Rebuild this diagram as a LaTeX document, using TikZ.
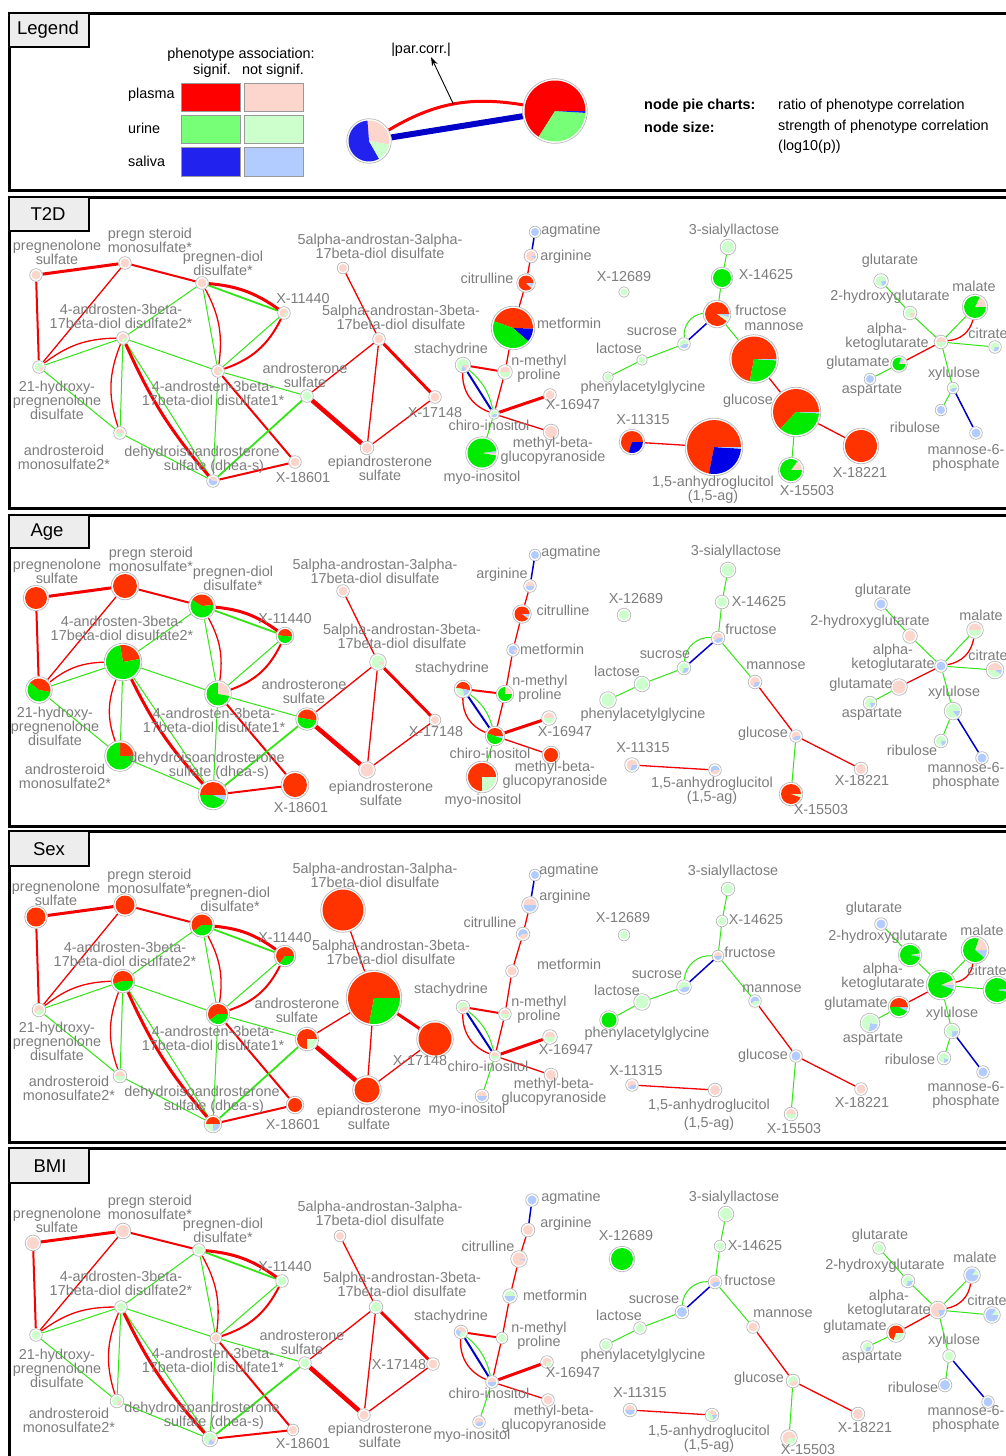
\documentclass[tikz,border=0pt]{standalone}
\usepackage{fontspec}
\setmainfont{Liberation Sans}
\usetikzlibrary{arrows.meta}
\pgfdeclarelayer{paper}
\pgfdeclarelayer{edges}
\pgfsetlayers{paper,edges,main}

% pie slice colours: plasma / urine / saliva, significant (S) or not (N)
\definecolor{pS}{RGB}{255,51,0}
\definecolor{pN}{RGB}{252,214,204}
\definecolor{uS}{RGB}{0,235,0}
\definecolor{uN}{RGB}{204,255,204}
\definecolor{sS}{RGB}{0,0,230}
\definecolor{sN}{RGB}{179,204,255}
% legend colours
\definecolor{lgR}{RGB}{255,0,0}
\definecolor{lgG}{RGB}{119,255,119}
\definecolor{lgB}{RGB}{34,34,238}
% edge colours
\definecolor{eR}{RGB}{245,0,0}
\definecolor{eG}{RGB}{50,230,20}
\definecolor{eB}{RGB}{0,0,200}
\definecolor{txt}{RGB}{125,125,125}

\tikzset{
  ring/.style={circle, inner sep=0pt, fill=white, draw=black!28, line width=0.7pt},
  lbl/.style={text=txt, font=\fontsize{14.4}{14}\selectfont, align=center, inner sep=0pt},
  lgt/.style={text=black, font=\fontsize{14.4}{14}\selectfont, inner sep=0pt},
  lgtb/.style={text=black, font=\fontsize{14.4}{14}\selectfont\bfseries, inner sep=0pt},
  tabtxt/.style={font=\fontsize{18.5}{20}\selectfont, inner sep=0pt},
  frame/.style={line width=3pt},
  tabbox/.style={draw, line width=1.6pt, fill=black!7},
  rt/.style={eR, line width=1.3pt},
  rM/.style={eR, line width=2pt},
  rT/.style={eR, line width=3pt},
  rX/.style={eR, line width=4.5pt},
  gt/.style={eG, line width=1pt},
  gM/.style={eG, line width=1.8pt},
  bt/.style={eB, line width=1.5pt},
  bM/.style={eB, line width=2pt},
}

% pie node: name, position, radius, start angle, slices colour/fraction
\newcommand\pn[5]{%
  \node[ring, minimum size={2*#3+3.6}] (#1) at (#2) {};
  \pgfmathsetmacro\pietmp{-1*(#4)}\global\let\pieang\pietmp
  \foreach \pc/\pf in {#5}{%
    \pgfmathsetmacro\pieend{\pieang-360*\pf}%
    \fill[\pc] (#1.center) -- ++(\pieang:#3) arc[start angle=\pieang, end angle=\pieend, radius=#3] -- cycle;
    \xdef\pieang{\pieend}%
  }}

\newcounter{lbc}
\newcommand\lb[2]{\stepcounter{lbc}\node[lbl] (lb\arabic{lbc}) at (#1) {#2};}

\newcommand\LBpsul{pregnenolone\\sulfate}
\newcommand\LBpst{pregn steroid\\monosulfate*}
\newcommand\LBpdi{pregnen-diol\\disulfate*}
\newcommand\LBaa{4-androsten-3beta-\\17beta-diol disulfate2*}
\newcommand\LBab{4-androsten-3beta-\\17beta-diol disulfate1*}
\newcommand\LBhy{21-hydroxy-\\pregnenolone\\disulfate}
\newcommand\LBasul{androsterone\\sulfate}
\newcommand\LBam{androsteroid\\monosulfate2*}
\newcommand\LBdh{dehydroisoandrosterone\\\hspace*{24pt}sulfate (dhea-s)}
\newcommand\LBda{5alpha-androstan-3alpha-\\17beta-diol disulfate}
\newcommand\LBdb{5alpha-androstan-3beta-\\17beta-diol disulfate}
\newcommand\LBepi{epiandrosterone\\sulfate}
\newcommand\LBnmp{n-methyl\\proline}
\newcommand\LBmbg{methyl-beta-\\glucopyranoside}
\newcommand\LBag{1,5-anhydroglucitol\\(1,5-ag)}
\newcommand\LBakg{alpha-\\ketoglutarate}
\newcommand\LBmsp{mannose-6-\\phosphate}

% the correlation network, identical in every panel
\newcommand\netedges[1]{%
\begin{pgfonlayer}{edges}
 \draw[rT] (#1psul) -- (#1pst);
 \draw[rM] (#1psul) -- (#1h21);
 \draw[rt] (#1pst) -- (#1h21);
 \draw[rM] (#1pst) -- (#1pdi);
 \draw[gM] (#1pdi) -- (#1x440);
 \draw[rT] (#1pdi) to[bend left=15] (#1x440);
 \draw[gt] (#1pdi) -- (#1a1);
 \draw[rt] (#1pdi) to[bend left=18] (#1a1);
 \draw[gt] (#1pdi) -- (#1a2);
 \draw[gt] (#1x440) -- (#1a1);
 \draw[rM] (#1x440) to[bend left=22] (#1a1);
 \draw[gt] (#1a2) -- (#1h21);
 \draw[rt] (#1a2) to[bend right=18] (#1h21);
 \draw[gt] (#1a2) -- (#1a1);
 \draw[gt] (#1a2) -- (#1am2);
 \draw[rt] (#1a2) to[bend right=20] (#1am2);
 \draw[gt] (#1a2) -- (#1dhea);
 \draw[rT] (#1a2) to[bend right=8] (#1dhea);
 \draw[gt] (#1h21) -- (#1am2);
 \draw[gt] (#1am2) -- (#1dhea);
 \draw[gt] (#1a1) -- (#1dhea);
 \draw[rM] (#1a1) -- (#1x601);
 \draw[gt] (#1a1) -- (#1asul);
 \draw[gM] (#1asul) -- (#1dhea);
 \draw[rM] (#1dhea) -- (#1x601);
 \draw[rt] (#1asul) -- (#1d3b);
 \draw[rX] (#1asul) -- (#1epi);
 \draw[rt] (#1d3a) -- (#1d3b);
 \draw[rt] (#1d3b) -- (#1epi);
 \draw[rT] (#1d3b) -- (#1x148);
 \draw[rt] (#1x148) -- (#1epi);
 \draw[bt] (#1agm) -- (#1arg);
 \draw[rt] (#1arg) -- (#1cit);
 \draw[rt] (#1cit) -- (#1met);
 \draw[rt] (#1met) -- (#1nmp);
 \draw[rt] (#1nmp) -- (#1chi);
 \draw[rM] (#1sta) -- (#1nmp);
 \draw[rt] (#1sta) to[bend right=35] (#1chi);
 \draw[bM] (#1sta) -- (#1chi);
 \draw[gt] (#1sta) to[bend left=18] (#1chi);
 \draw[rT] (#1chi) -- (#1x947);
 \draw[rt] (#1chi) -- (#1mbg);
 \draw[gt] (#1chi) -- (#1myo);
 \draw[gt] (#1sia) -- (#1x625);
 \draw[gt] (#1x625) -- (#1fru);
 \draw[bt] (#1fru) -- (#1suc);
 \draw[gt] (#1fru) to[bend right=45] (#1suc);
 \draw[gt] (#1suc) -- (#1lac);
 \draw[gt] (#1lac) -- (#1pag);
 \draw[gt] (#1fru) -- (#1man);
 \draw[rt] (#1man) -- (#1glc);
 \draw[rt] (#1glc) -- (#1x221);
 \draw[gt] (#1glc) -- (#1x503);
 \draw[rt] (#1x315) -- (#1ag);
 \draw[gt] (#1glr) -- (#1hg);
 \draw[gt] (#1hg) -- (#1akg);
 \draw[gt] (#1akg) -- (#1mal);
 \draw[rt] (#1akg) to[bend right=35] (#1mal);
 \draw[gt] (#1akg) -- (#1ctr);
 \draw[rt] (#1akg) -- (#1glu);
 \draw[gt] (#1glu) -- (#1asp);
 \draw[gt] (#1akg) -- (#1xyl);
 \draw[gt] (#1xyl) -- (#1rib);
 \draw[bt] (#1xyl) -- (#1m6p);
\end{pgfonlayer}}

\begin{document}
\begin{tikzpicture}[x=1pt, y=-1pt]
\useasboundingbox (0,0) rectangle (1006,1456);
\clip (0,0) rectangle (1006,1456);
\begin{pgfonlayer}{paper}
\fill[white] (0,0) rectangle (1006,1456);
\end{pgfonlayer}

% ---------------- legend ----------------
\draw[frame] (1015,13) -- (9,13) -- (9,190) -- (1015,190);
\draw[tabbox] (9,13) rectangle (89,47);
\node[tabtxt] (tabL) at (48,30) {Legend};
\node[lgt] (lg1) at (241,55) {phenotype association:};
\node[lgt] (lg2) at (212,71) {signif.};
\node[lgt] (lg3) at (273,71) {not signif.};
\node[lgt, anchor=west] (lg4) at (128,95) {plasma};
\node[lgt, anchor=west] (lg5) at (128,128) {urine};
\node[lgt, anchor=west] (lg6) at (128,161) {saliva};
\filldraw[fill=lgR, draw=black!40] (181.5,82.7) rectangle (240.5,110.7);
\filldraw[fill=pN, draw=black!40] (243.7,82.7) rectangle (302.8,110.7);
\filldraw[fill=lgG, draw=black!40] (181.5,114.7) rectangle (240.5,142.7);
\filldraw[fill=uN, draw=black!40] (243.7,114.7) rectangle (302.8,142.7);
\filldraw[fill=lgB, draw=black!40] (181.5,146.7) rectangle (240.5,175.7);
\filldraw[fill=sN, draw=black!40] (243.7,146.7) rectangle (302.8,175.7);
\pn{lgsmall}{369,141}{20.5}{-10}{pN/.29,lgB/.57,uN/.14}
\pn{lgbig}{555,111}{30.5}{0}{lgR/.66,lgG/.33,lgB/.01}
\begin{pgfonlayer}{edges}
\draw[lgR, line width=3pt] (lgsmall) to[bend left=20] coordinate[pos=0.5] (pcfoot) (lgbig);
\draw[eB, line width=6pt] (lgsmall) -- (lgbig);
\end{pgfonlayer}
\node[lgt] (pcl) at (421,50) {|par.corr.|};
\coordinate (pctip) at (431,57);
\draw[line width=0.9pt, -{Stealth[length=9pt, width=6pt]}] (pcfoot) -- (pctip);
\node[lgtb, anchor=west] (lg7) at (644,106) {node pie charts:};
\node[lgt, anchor=west] (lg8) at (778,106) {ratio of phenotype correlation};
\node[lgtb, anchor=west] (lg9) at (644,127) {node size:};
\node[lgt, anchor=west] (lg10) at (778,127) {strength of phenotype correlation};
\node[lgt, anchor=west] (lg11) at (778,147) {(log10(p))};

% ---------------- T2D ----------------
\draw[frame] (1015,197) -- (9,197) -- (9,508) -- (1015,508);
\draw[tabbox] (9,197) rectangle (89,231);
\node[tabtxt] (tabT) at (48,214) {T2D};
\pn{tpsul}{36,275}{4.5}{0}{pN/1}
\pn{tpst}{125,263}{4.5}{0}{pN/1}
\pn{tpdi}{202,283}{4.5}{0}{pN/1}
\pn{tx440}{284,313}{4.5}{0}{pN/.8,uN/.2}
\pn{ta2}{123,338}{4.5}{0}{pN/.7,uN/.3}
\pn{th21}{39,367}{4.5}{0}{uN/.8,pN/.2}
\pn{ta1}{218,371}{4.5}{0}{pN/.85,uN/.15}
\pn{tasul}{307,396}{4.5}{0}{uN/1}
\pn{tam2}{120,433}{4.5}{0}{pN/.5,uN/.5}
\pn{tdhea}{213,481}{4.5}{0}{pN/.4,sN/.6}
\pn{tx601}{295,462}{4.5}{0}{pN/1}
\pn{td3a}{343,268}{4}{0}{pN/1}
\pn{td3b}{379,339}{4.5}{0}{pN/1}
\pn{tx148}{435,397}{4.5}{0}{pN/1}
\pn{tepi}{367,448}{5}{0}{pN/1}
\pn{tagm}{535,232}{4}{0}{sN/1}
\pn{targ}{531,256}{5}{0}{pN/.9,sN/.1}
\pn{tcit}{526,283}{7.5}{0}{pS/.88,pN/.06,sN/.06}
\pn{tmet}{513,328}{20}{-41}{sS/.11,pS/.45,uS/.44}
\pn{tsta}{463,365}{6}{0}{uN/.7,sN/.15,pN/.15}
\pn{tnmp}{505,372}{5.5}{0}{pN/.5,uN/.5}
\pn{tchi}{494,414}{3.5}{0}{uN/.6,sN/.4}
\pn{tx947}{550,395}{4.5}{0}{pN/1}
\pn{tmbg}{551,432}{6}{0}{pN/1}
\pn{tmyo}{482,453}{14.5}{-10}{pN/.03,sN/.02,uS/.95}
\pn{tx689}{624,292}{3.5}{0}{uN/1}
\pn{tsia}{728,247}{6}{0}{uN/1}
\pn{tx625}{722,278}{9}{0}{uS/1}
\pn{tfru}{717,314}{12}{0}{pS/.9,uN/.06,sN/.04}
\pn{tsuc}{684,344}{4.5}{0}{uN/.6,sN/.4}
\pn{tlac}{642,360}{3.5}{0}{uN/1}
\pn{tpag}{608,377}{3.5}{0}{uN/1}
\pn{tman}{754,359}{22.5}{0}{pS/.72,uS/.27,sN/.01}
\pn{tglc}{796,412}{23}{0}{pS/.63,uS/.36,sN/.01}
\pn{tx221}{861,446}{16}{0}{pS/1}
\pn{tx503}{791,470}{11}{0}{pN/.15,uS/.85}
\pn{tx315}{632,442}{11}{0}{pS/.7,sS/.3}
\pn{tag}{714,447}{27}{0}{pS/.72,sS/.27,sN/.01}
\pn{tglr}{881,281}{5.5}{0}{uN/.8,sN/.2}
\pn{thg}{910,313}{5}{0}{uN/.8,pN/.2}
\pn{tmal}{975,307}{11}{0}{pN/.18,uS/.82}
\pn{takg}{941,342}{5}{0}{pN/.5,uN/.5}
\pn{tctr}{995,347}{4.5}{0}{uN/.7,sN/.3}
\pn{tglu}{899,364}{6.5}{0}{pN/.12,sN/.08,uS/.8}
\pn{tasp}{870,379}{4}{0}{sN/1}
\pn{txyl}{953,388}{4}{0}{uN/.6,sN/.4}
\pn{trib}{941,410}{4}{0}{sN/1}
\pn{tm6p}{976,433}{4.5}{0}{sN/1}
\netedges{t}
\lb{57,252.5}{\LBpsul}
\lb{150,240.5}{\LBpst}
\lb{223,263.5}{\LBpdi}
\lb{303,299}{X-11440}
\lb{121,316}{\LBaa}
\lb{57,400}{\LBhy}
\lb{213,393.5}{\LBab}
\lb{305,375}{\LBasul}
\lb{64,457}{\LBam}
\lb{202,460}{\LBdh}
\lb{303,478}{X-18601}
\lb{380,246}{\LBda}
\lb{401,317.5}{\LBdb}
\lb{435,413}{X-17148}
\lb{380,468}{\LBepi}
\lb{451,350}{stachydrine}
\lb{487,278}{citrulline}
\lb{571,231}{agmatine}
\lb{566,257}{arginine}
\lb{569,323}{metformin}
\lb{539,369}{\LBnmp}
\lb{573,405}{X-16947}
\lb{489,425}{chiro-inositol}
\lb{553,451}{\LBmbg}
\lb{482,478}{myo-inositol}
\lb{624,277}{X-12689}
\lb{734,231}{3-sialyllactose}
\lb{766,275}{X-14625}
\lb{761,310}{fructose}
\lb{774,327}{mannose}
\lb{652,332}{sucrose}
\lb{619,348}{lactose}
\lb{643,388}{phenylacetylglycine}
\lb{748,401}{glucose}
\lb{643,420}{X-11315}
\lb{713,490}{\LBag}
\lb{807,491}{X-15503}
\lb{860,473}{X-18221}
\lb{890,261}{glutarate}
\lb{890,297}{2-hydroxyglutarate}
\lb{974,286}{malate}
\lb{988,333}{citrate}
\lb{887,336.5}{\LBakg}
\lb{858,363}{glutamate}
\lb{872,390}{aspartate}
\lb{954,374}{xylulose}
\lb{915,427}{ribulose}
\lb{966,458}{\LBmsp}

% ---------------- Age ----------------
\draw[frame] (1015,515) -- (9,515) -- (9,826) -- (1015,826);
\draw[tabbox] (9,515) rectangle (89,548);
\node[tabtxt] (tabA) at (47,532) {Age};
\pn{apsul}{36,598}{11}{0}{pS/1}
\pn{apst}{125,586}{12}{0}{pS/1}
\pn{apdi}{202,606}{11.5}{5}{pS/.4,uS/.6}
\pn{ax440}{285,636}{7}{-5}{pS/.5,uS/.5}
\pn{aa2}{123,662}{17}{10}{pS/.25,uS/.75}
\pn{ah21}{39,690}{11.5}{-10}{pS/.42,uS/.58}
\pn{aa1}{218,694}{11.5}{-10}{pN/.28,uS/.72}
\pn{aasul}{307,719}{9.5}{-10}{pS/.5,uS/.5}
\pn{aam2}{120,756}{13.5}{0}{pS/.25,uS/.75}
\pn{adhea}{213,795}{13}{0}{pS/.5,uS/.43,sN/.07}
\pn{ax601}{295,785}{12}{0}{pS/1}
\pn{ad3a}{343,591}{4.5}{0}{pN/1}
\pn{ad3b}{378,662}{6.5}{0}{uN/.9,pN/.1}
\pn{ax148}{435,720}{4}{0}{pN/1}
\pn{aepi}{367,770}{6.5}{0}{pN/1}
\pn{aagm}{535,555}{4}{0}{sN/1}
\pn{aarg}{530,586}{4.5}{0}{pN/.5,sN/.5}
\pn{acit}{522,614}{7.5}{0}{pS/.9,pN/.04,sN/.06}
\pn{amet}{513,650}{4.5}{0}{sN/.85,pN/.15}
\pn{asta}{463,689}{7}{-10}{pS/.5,uN/.3,sN/.2}
\pn{anmp}{505,694}{7}{0}{pN/.25,uS/.75}
\pn{achi}{495,736}{8}{0}{pS/.45,uS/.5,sN/.05}
\pn{ax947}{549,718}{5.5}{0}{pN/.5,uN/.5}
\pn{ambg}{551,755}{7}{0}{pS/1}
\pn{amyo}{482,777}{14}{0}{pS/.75,uN/.25}
\pn{ax689}{624,615}{5}{0}{uN/1}
\pn{asia}{728,570}{6}{0}{uN/1}
\pn{ax625}{722,602}{5}{0}{uN/1}
\pn{afru}{718,638}{5}{0}{pN/.6,sN/.4}
\pn{asuc}{684,668}{5}{0}{uN/.7,sN/.3}
\pn{alac}{642,684}{6}{0}{uN/1}
\pn{apag}{608,700}{6.5}{0}{uN/1}
\pn{aman}{755,682}{5}{0}{pN/.7,sN/.3}
\pn{aglc}{796,736}{4.5}{0}{pN/.6,sN/.4}
\pn{ax221}{861,769}{5}{0}{pN/1}
\pn{ax503}{791,794}{10}{0}{pS/.95,uN/.05}
\pn{ax315}{632,765}{5.5}{0}{pN/.7,sN/.3}
\pn{aag}{715,770}{4.5}{0}{sN/.6,pN/.4}
\pn{aglr}{881,604}{4.5}{0}{sN/1}
\pn{ahg}{910,636}{5.5}{0}{pN/1}
\pn{amal}{975,630}{6.5}{0}{pN/.5,uN/.5}
\pn{aakg}{941,666}{4.5}{0}{sN/1}
\pn{actr}{995,670}{7}{0}{pN/.5,uN/.4,sN/.1}
\pn{aglu}{899,687}{6.5}{0}{pN/1}
\pn{aasp}{870,703}{5}{0}{uN/.8,sN/.2}
\pn{axyl}{953,711}{7}{0}{uN/.85,sN/.15}
\pn{arib}{941,741}{5}{0}{uN/.8,sN/.2}
\pn{am6p}{982,758}{4.5}{0}{sN/1}
\netedges{a}
\lb{57,571}{\LBpsul}
\lb{151,559.5}{\LBpst}
\lb{233,578.5}{\LBpdi}
\lb{285,619}{X-11440}
\lb{122,628.5}{\LBaa}
\lb{55,726}{\LBhy}
\lb{214,720.5}{\LBab}
\lb{304,691}{\LBasul}
\lb{65,776}{\LBam}
\lb{207,765.5}{\LBdh}
\lb{301,808}{X-18601}
\lb{375,571}{\LBda}
\lb{402,636.5}{\LBdb}
\lb{436,732}{X-17148}
\lb{381,793}{\LBepi}
\lb{452,669}{stachydrine}
\lb{502,575}{arginine}
\lb{563,610}{citrulline}
\lb{552,649}{metformin}
\lb{571,553}{agmatine}
\lb{540,688.5}{\LBnmp}
\lb{565,732}{X-16947}
\lb{490,753}{chiro-inositol}
\lb{555,774.5}{\LBmbg}
\lb{483,801}{myo-inositol}
\lb{636,599}{X-12689}
\lb{736,552}{3-sialyllactose}
\lb{759,602}{X-14625}
\lb{751,629}{fructose}
\lb{665,655}{sucrose}
\lb{617,671}{lactose}
\lb{643,715}{phenylacetylglycine}
\lb{776,666}{mannose}
\lb{763,734}{glucose}
\lb{643,748}{X-11315}
\lb{712,791}{\LBag}
\lb{821,810}{X-15503}
\lb{862,781}{X-18221}
\lb{883,591}{glutarate}
\lb{870,622}{2-hydroxyglutarate}
\lb{981,615}{malate}
\lb{988,655}{citrate}
\lb{893,657.5}{\LBakg}
\lb{861,685}{glutamate}
\lb{872,714}{aspartate}
\lb{954,693}{xylulose}
\lb{912,750}{ribulose}
\lb{966,776}{\LBmsp}

% ---------------- Sex ----------------
\draw[frame] (1015,831) -- (9,831) -- (9,1142) -- (1015,1142);
\draw[tabbox] (9,831) rectangle (89,866);
\node[tabtxt] (tabS) at (49,849) {Sex};
\pn{spsul}{36,917}{9.5}{0}{pS/1}
\pn{spst}{125,905}{9.5}{0}{pS/1}
\pn{spdi}{202,925}{10.5}{0}{pS/.6,uS/.4}
\pn{sx440}{285,956}{9}{0}{pS/.65,uS/.35}
\pn{sa2}{123,981}{10}{0}{pS/.55,uS/.45}
\pn{sh21}{39,1010}{5}{0}{pN/.6,uN/.4}
\pn{sa1}{218,1014}{10}{0}{pS/.6,uS/.4}
\pn{sasul}{307,1039}{10}{0}{pS/.75,uN/.25}
\pn{sam2}{120,1076}{5}{0}{pN/.5,uN/.5}
\pn{sdhea}{213,1124}{7}{0}{pS/.5,uN/.25,sN/.25}
\pn{sx601}{295,1105}{7}{0}{pS/1}
\pn{sd3a}{343,910}{20.5}{0}{pS/1}
\pn{sd3b}{374,998}{26}{0}{pS/.72,uS/.28}
\pn{sx148}{435,1039}{16.5}{0}{pS/1}
\pn{sepi}{367,1090}{12.5}{0}{pS/1}
\pn{sagm}{535,875}{4}{0}{sN/1}
\pn{sarg}{530,905}{6.5}{0}{pN/.5,sN/.5}
\pn{scit}{523,934}{5}{0}{sN/.6,pN/.4}
\pn{smet}{512,971}{4.5}{0}{pN/1}
\pn{ssta}{463,1007}{5}{0}{uN/.6,pN/.4}
\pn{snmp}{505,1014}{4.5}{0}{pN/.5,uN/.5}
\pn{schi}{495,1056}{4}{0}{pN/.5,uN/.5}
\pn{sx947}{550,1037}{5.5}{0}{pN/.5,uN/.5}
\pn{smbg}{551,1075}{5}{0}{pN/1}
\pn{smyo}{482,1096}{5}{0}{pN/.5,sN/.5}
\pn{sx689}{624,935}{4}{0}{uN/1}
\pn{ssia}{728,889}{5}{0}{uN/1}
\pn{sx625}{722,921}{4}{0}{uN/1}
\pn{sfru}{718,956}{4}{0}{pN/.5,sN/.5}
\pn{ssuc}{684,987}{5.5}{0}{uN/.6,sN/.4}
\pn{slac}{642,1002}{6.5}{0}{uN/1}
\pn{spag}{609,1020}{7.5}{0}{uS/1}
\pn{sman}{755,1001}{4.5}{0}{sN/.6,uN/.4}
\pn{sglc}{796,1056}{4.5}{0}{sN/1}
\pn{sx221}{861,1089}{4.5}{0}{pN/1}
\pn{sx503}{791,1114}{5}{0}{pN/.5,uN/.5}
\pn{sx315}{632,1085}{4.5}{0}{pN/.6,sN/.4}
\pn{sag}{715,1090}{5}{0}{pN/1}
\pn{sglr}{881,924}{4.5}{0}{sN/1}
\pn{shg}{910,955}{10}{-12}{sN/.03,pN/.03,uS/.94}
\pn{smal}{975,950}{12}{-40}{sN/.11,pN/.2,uS/.69}
\pn{sakg}{941,985}{13}{-20}{sN/.06,pN/.06,uS/.88}
\pn{sctr}{997,990}{12}{-10}{sN/.05,uS/.95}
\pn{sglu}{899,1007}{9}{-30}{sN/.08,pS/.5,uS/.42}
\pn{sasp}{870,1023}{8}{-100}{sN/.25,uN/.75}
\pn{sxyl}{952,1031}{6}{-90}{sN/.25,uN/.75}
\pn{srib}{944,1058}{5}{-90}{sN/.2,uN/.8}
\pn{sm6p}{983,1072}{4.5}{0}{sN/1}
\netedges{s}
\lb{56,893.5}{\LBpsul}
\lb{149.5,881}{\LBpst}
\lb{230,899.5}{\LBpdi}
\lb{285,938}{X-11440}
\lb{125,954.5}{\LBaa}
\lb{57,1041}{\LBhy}
\lb{213,1038}{\LBab}
\lb{297,1010}{\LBasul}
\lb{69,1088}{\LBam}
\lb{202,1100}{\LBdh}
\lb{293,1125}{X-18601}
\lb{375,875}{\LBda}
\lb{391,952.5}{\LBdb}
\lb{420,1061}{X-17148}
\lb{369,1117}{\LBepi}
\lb{467,1110}{myo-inositol}
\lb{569,871}{agmatine}
\lb{565,897}{arginine}
\lb{490,922}{citrulline}
\lb{569,964}{metformin}
\lb{451,990}{stachydrine}
\lb{539,1010}{\LBnmp}
\lb{488,1066}{chiro-inositol}
\lb{566,1050}{X-16947}
\lb{554,1091.5}{\LBmbg}
\lb{623,918}{X-12689}
\lb{733,872}{3-sialyllactose}
\lb{756,920}{X-14625}
\lb{750,952}{fructose}
\lb{657,975}{sucrose}
\lb{617,990}{lactose}
\lb{647,1034}{phenylacetylglycine}
\lb{772,989}{mannose}
\lb{763,1056}{glucose}
\lb{862,1103}{X-18221}
\lb{794,1129}{X-15503}
\lb{636,1071}{X-11315}
\lb{709,1115}{1,5-anhydroglucitol\\[4pt](1,5-ag)}
\lb{874,909}{glutarate}
\lb{888,937}{2-hydroxyglutarate}
\lb{982,930}{malate}
\lb{883,977}{\LBakg}
\lb{987,970}{citrate}
\lb{856,1004}{glutamate}
\lb{873,1039}{aspartate}
\lb{952,1014}{xylulose}
\lb{910,1059}{ribulose}
\lb{966,1095}{\LBmsp}

% ---------------- BMI ----------------
\draw[frame] (1015,1148) -- (9,1148) -- (9,1470);
\draw[tabbox] (9,1148) rectangle (89,1183);
\node[tabtxt] (tabB) at (50,1166) {BMI};
\pn{bpsul}{33,1243}{6}{0}{pN/1}
\pn{bpst}{123,1231}{6}{0}{pN/1}
\pn{bpdi}{199,1250}{4.5}{0}{uN/1}
\pn{bx440}{282,1281}{4.5}{0}{uN/1}
\pn{ba2}{121,1307}{4.5}{0}{uN/1}
\pn{bh21}{36,1335}{4.5}{0}{uN/1}
\pn{ba1}{216,1338}{4}{0}{pN/1}
\pn{basul}{305,1363}{4.5}{0}{uN/1}
\pn{bam2}{117,1401}{5}{0}{uN/.8,pN/.2}
\pn{bdhea}{210,1439}{6}{0}{uN/.7,sN/.2,pN/.1}
\pn{bx601}{293,1430}{4}{0}{pN/1}
\pn{bd3a}{340,1236}{4}{0}{pN/1}
\pn{bd3b}{376,1307}{5}{0}{uN/1}
\pn{bx148}{433,1364}{4.5}{0}{pN/1}
\pn{bepi}{364,1415}{4.5}{0}{pN/1}
\pn{bagm}{532,1200}{4.5}{0}{sN/1}
\pn{barg}{528,1230}{5}{0}{pN/1}
\pn{bcit}{519,1259}{6.5}{0}{pN/.95,sN/.05}
\pn{bmet}{510,1296}{5.5}{0}{uN/.5,sN/.5}
\pn{bsta}{461,1332}{5}{0}{pN/.4,sN/.3,uN/.3}
\pn{bnmp}{502,1338}{4}{0}{uN/1}
\pn{bchi}{492,1382}{4.5}{0}{pN/.5,sN/.5}
\pn{bx947}{547,1362}{4.5}{0}{pN/.7,uN/.3}
\pn{bmbg}{548,1400}{4.5}{0}{pN/1}
\pn{bmyo}{479,1422}{4.5}{0}{pN/.6,sN/.4}
\pn{bx689}{622,1259}{11}{0}{uS/1}
\pn{bsia}{726,1214}{6}{0}{uN/1}
\pn{bx625}{720,1246}{4}{0}{uN/1}
\pn{bfru}{715,1282}{5}{0}{pN/.6,sN/.4}
\pn{bsuc}{682,1312}{5}{0}{sN/1}
\pn{blac}{640,1328}{4.5}{0}{uN/1}
\pn{bpag}{606,1345}{4.5}{0}{uN/1}
\pn{bman}{753,1327}{4.5}{0}{pN/1}
\pn{bglc}{793,1381}{5}{0}{uN/.6,pN/.4}
\pn{bx221}{858,1414}{5}{0}{pN/1}
\pn{bx503}{789,1438}{6.5}{0}{pN/.7,uN/.3}
\pn{bx315}{630,1410}{5}{0}{pN/.5,sN/.5}
\pn{bag}{712,1415}{5}{0}{pN/.4,uN/.4,sN/.2}
\pn{bglr}{879,1248}{4.5}{0}{uN/1}
\pn{bhg}{908,1281}{5}{0}{uN/.7,sN/.3}
\pn{bmal}{972,1275}{6.5}{0}{uN/.15,sN/.85}
\pn{bakg}{938,1310}{7}{0}{pN/.8,sN/.2}
\pn{bctr}{992,1315}{6.5}{0}{uN/.15,sN/.85}
\pn{bglu}{896,1333}{7.5}{0}{pS/.7,uN/.3}
\pn{basp}{867,1347}{4.5}{0}{uN/.7,sN/.3}
\pn{bxyl}{949,1356}{4.5}{0}{uN/1}
\pn{brib}{945,1385}{5}{0}{sN/1}
\pn{bm6p}{988,1402}{4.5}{0}{sN/1}
\netedges{b}
\lb{57,1220}{\LBpsul}
\lb{150,1207.5}{\LBpst}
\lb{223,1230.5}{\LBpdi}
\lb{285,1267}{X-11440}
\lb{121,1283.5}{\LBaa}
\lb{57,1368}{\LBhy}
\lb{213,1360}{\LBab}
\lb{302,1342.5}{\LBasul}
\lb{69,1420}{\LBam}
\lb{202,1416}{\LBdh}
\lb{303,1444}{X-18601}
\lb{380,1213}{\LBda}
\lb{402,1284}{\LBdb}
\lb{399,1365}{X-17148}
\lb{380,1435}{\LBepi}
\lb{571,1198}{agmatine}
\lb{566,1224}{arginine}
\lb{488,1246}{citrulline}
\lb{555,1295}{metformin}
\lb{451,1317}{stachydrine}
\lb{539,1336}{\LBnmp}
\lb{489,1393}{chiro-inositol}
\lb{573,1373}{X-16947}
\lb{554,1418.5}{\LBmbg}
\lb{472,1436}{myo-inositol}
\lb{626,1236}{X-12689}
\lb{734,1198}{3-sialyllactose}
\lb{755,1246}{X-14625}
\lb{750,1280}{fructose}
\lb{654,1300}{sucrose}
\lb{619,1315}{lactose}
\lb{643,1356}{phenylacetylglycine}
\lb{783,1314}{mannose}
\lb{759,1379}{glucose}
\lb{865,1428}{X-18221}
\lb{808,1450}{X-15503}
\lb{640,1393}{X-11315}
\lb{709,1438.5}{\LBag}
\lb{880,1236}{glutarate}
\lb{885,1266}{2-hydroxyglutarate}
\lb{975,1257}{malate}
\lb{889,1304}{\LBakg}
\lb{987,1300}{citrate}
\lb{855,1327}{glutamate}
\lb{872,1357}{aspartate}
\lb{954,1341}{xylulose}
\lb{913,1387}{ribulose}
\lb{966,1419}{\LBmsp}
\end{tikzpicture}
\end{document}
